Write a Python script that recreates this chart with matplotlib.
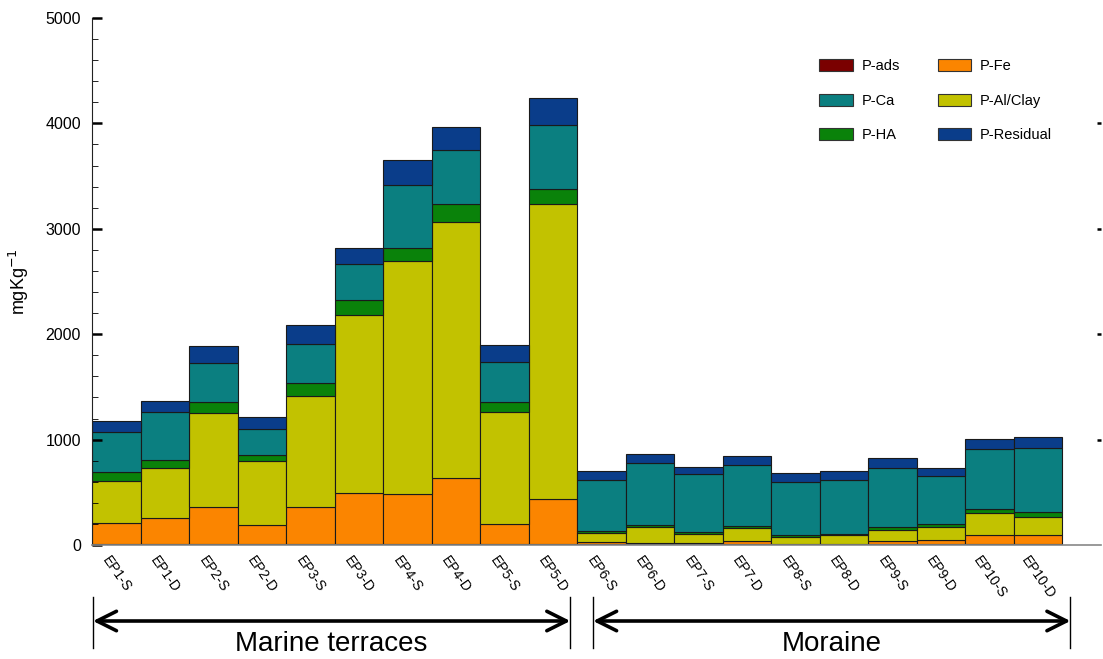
import matplotlib
matplotlib.use("Agg")
import matplotlib.pyplot as plt
import matplotlib.transforms as mtransforms
from matplotlib.patches import Patch
import numpy as np

plt.rcParams['font.family'] = ['Liberation Sans', 'DejaVu Sans']

samples = ["EP1-S", "EP1-D", "EP2-S", "EP2-D", "EP3-S", "EP3-D", "EP4-S", "EP4-D", "EP5-S", "EP5-D",
           "EP6-S", "EP6-D", "EP7-S", "EP7-D", "EP8-S", "EP8-D", "EP9-S", "EP9-D", "EP10-S", "EP10-D"]

p_ads = [5, 5, 5, 5, 5, 5, 5, 5, 5, 5, 5, 5, 5, 5, 5, 5, 5, 5, 5, 5]
p_fe = [205, 254, 353, 185, 359, 492, 479, 628, 194, 435, 20, 10, 10, 30, 5, 5, 30, 42, 90, 90]
p_alclay = [400, 468, 891, 604, 1050, 1685, 2210, 2432, 1060, 2795, 92, 159, 92, 123, 69, 85, 107, 127, 205, 174]
p_ha = [86, 76, 111, 60, 123, 143, 124, 170, 101, 143, 19, 13, 13, 22, 19, 9, 32, 25, 38, 41]
p_ca = [373, 456, 367, 246, 370, 341, 598, 513, 376, 607, 481, 594, 550, 576, 503, 513, 553, 459, 570, 610]
p_residual = [107, 107, 161, 118, 180, 152, 237, 218, 162, 256, 88, 79, 73, 92, 79, 85, 95, 69, 98, 108]

series = [("P-ads", p_ads, "#7a0000"),
          ("P-Fe", p_fe, "#fb8500"),
          ("P-Al/Clay", p_alclay, "#c2c200"),
          ("P-HA", p_ha, "#0a820a"),
          ("P-Ca", p_ca, "#0b7f80"),
          ("P-Residual", p_residual, "#0a3d8a")]

fig = plt.figure(figsize=(11.03, 6.59), dpi=100)
ax = fig.add_axes([92 / 1103, 1 - 545 / 659, (1101 - 92) / 1103, (545 - 18) / 659])

x = np.arange(len(samples))
bottom = np.zeros(len(samples))
handles = {}
for name, vals, col in series:
    vals = np.array(vals, dtype=float)
    ax.bar(x, vals, bottom=bottom, width=1.0, color=col, edgecolor="#1a1a1a", linewidth=0.8)
    handles[name] = Patch(facecolor=col, edgecolor="#333333", linewidth=0.8)
    bottom += vals

ax.set_xlim(-0.5, 20.3)
ax.set_ylim(0, 5000)
ax.set_yticks([0, 1000, 2000, 3000, 4000, 5000])
ax.set_yticks(np.arange(0, 5001, 200), minor=True)
ax.tick_params(axis='y', which='major', direction='in', length=7, width=1.8, labelsize=11.5, pad=8)
ax.tick_params(axis='y', which='minor', direction='in', length=4, width=0.6)
ax.set_xticks(x)
ax.set_xticklabels(samples, rotation=-55, ha='center', va='top', fontsize=10)
ax.tick_params(axis='x', length=0, pad=6)

for s in ['top', 'right']:
    ax.spines[s].set_visible(False)
ax.spines['bottom'].set_color('#888888')
ax.spines['bottom'].set_linewidth(1.2)
ax.spines['left'].set_color('#222222')
ax.spines['left'].set_linewidth(0.8)

# small right-side ticks
ax2 = ax.twinx()
ax2.set_ylim(0, 5000)
ax2.set_yticks([1000, 2000, 3000, 4000])
ax2.tick_params(axis='y', direction='in', length=3, width=1.8, labelright=False)
for s in ax2.spines.values():
    s.set_visible(False)

ax.set_ylabel("mgKg$^{-1}$", fontsize=13, labelpad=10)

order = ["P-ads", "P-Ca", "P-HA", "P-Fe", "P-Al/Clay", "P-Residual"]
fig.legend([handles[n] for n in order], order, ncol=2, loc='upper left',
           bbox_to_anchor=(806 / 1103, 1 - 46 / 659), frameon=False, fontsize=10.5,
           handlelength=2.3, handleheight=0.9, labelspacing=1.4, columnspacing=2.6,
           handletextpad=0.6)

# group annotations below axis
trans = mtransforms.blended_transform_factory(ax.transData, fig.transFigure)
y_arrow = 1 - 621 / 659
y_top = 1 - 597 / 659
y_bot = 1 - 648 / 659
groups = [(-0.48, 9.36, "Marine terraces"), (9.83, 19.67, "Moraine")]
for x0, x1, label in groups:
    for xv in (x0, x1):
        ax.plot([xv, xv], [y_bot, y_top], transform=trans, color='black', lw=1.0, clip_on=False)
    ax.annotate("", xy=(x1, y_arrow), xytext=(x0, y_arrow), xycoords=trans, textcoords=trans,
                arrowprops=dict(arrowstyle="<->,head_length=1.4,head_width=0.7", lw=2.6, color='black',
                                shrinkA=0, shrinkB=0))
    ax.text((x0 + x1) / 2, 1 - 644 / 659, label, transform=trans, ha='center', va='center',
            fontsize=20, clip_on=False)

fig.savefig("out.png", dpi=100)
